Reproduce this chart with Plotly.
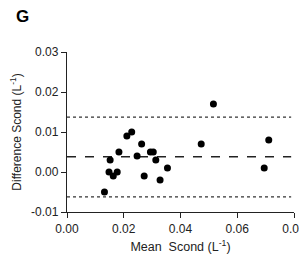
import plotly.graph_objects as go

mean_scond = [0.0132, 0.0152, 0.0148, 0.0163, 0.0177, 0.0183, 0.0211, 0.0228, 0.0247, 0.0263,
              0.0272, 0.0294, 0.0304, 0.0313, 0.0328, 0.0354, 0.0473, 0.0516, 0.0695, 0.0711]
diff_scond = [-0.005, 0.003, 0.000, -0.001, 0.000, 0.005, 0.009, 0.010, 0.004, 0.007,
              -0.001, 0.005, 0.005, 0.003, -0.002, 0.001, 0.007, 0.017, 0.001, 0.008]
bias = 0.0038
upper_loa = 0.0137
lower_loa = -0.0062
line_x = [0.0, 0.079]
x_ticks = [0.00, 0.02, 0.04, 0.06, 0.08]
y_ticks = [-0.01, 0.00, 0.01, 0.02, 0.03]

fig = go.Figure()
fig.add_trace(go.Scatter(x=line_x, y=[upper_loa] * 2, mode="lines",
                         line=dict(color="#333", width=1.3, dash="dot"), showlegend=False))
fig.add_trace(go.Scatter(x=line_x, y=[lower_loa] * 2, mode="lines",
                         line=dict(color="#333", width=1.3, dash="dot"), showlegend=False))
fig.add_trace(go.Scatter(x=line_x, y=[bias] * 2, mode="lines",
                         line=dict(color="#222", width=1.5, dash="dash"), showlegend=False))
fig.add_trace(go.Scatter(x=mean_scond, y=diff_scond, mode="markers",
                         marker=dict(color="black", size=7), showlegend=False))

font = "Liberation Sans, Arial, sans-serif"
# page body has a default 8px margin, so the figure is sized 8px smaller
fig.update_layout(
    width=299, height=248,
    margin=dict(l=59, r=13, t=44, b=44, autoexpand=False),
    paper_bgcolor="white", plot_bgcolor="white",
    font=dict(family=font, size=12, color="#222"),
    xaxis=dict(range=[0, 0.08], tickvals=x_ticks, ticktext=[f"{v:.2f}" for v in x_ticks],
               automargin=False,
               showgrid=False, zeroline=False, showline=True, linecolor="#222", linewidth=1.3,
               ticks="outside", ticklen=5, tickcolor="#222",
               title=dict(text="Mean  Scond (L<sup>-1</sup>)", standoff=7,
                          font=dict(size=12.5, family=font, color="#222"))),
    yaxis=dict(range=[-0.01, 0.03], tickvals=y_ticks, ticktext=[f"{v:.2f}" for v in y_ticks],
               automargin=False,
               showgrid=False, zeroline=False, showline=True, linecolor="#222", linewidth=1.3,
               ticks="outside", ticklen=5, tickcolor="#222",
               title=dict(text="Difference Scond (L<sup>-1</sup>)", standoff=12,
                          font=dict(size=12, family=font, color="#222"))),
)
fig.add_annotation(text="<b>G</b>", xref="paper", yref="paper", x=-0.23, y=1.289,
                   xanchor="left", yanchor="top", showarrow=False, borderpad=0,
                   font=dict(size=17, color="black", family=font))
fig.write_html("out.html")
